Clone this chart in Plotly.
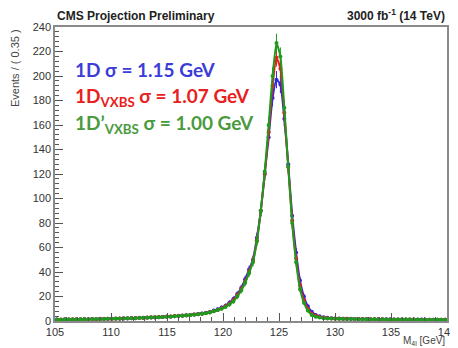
import numpy as np
import plotly.graph_objects as go

BIN_LO = 105.0
BIN_WIDTH = 0.35
N_BINS = 100
mass = [round(BIN_LO + BIN_WIDTH * (i + 0.5), 4) for i in range(N_BINS)]

blue_1D = [1.2,1.0,1.4,1.3,1.1,1.5,1.3,1.6,1.4,1.7,1.5,1.8,1.6,1.9,1.8,
           2.0,1.9,2.2,2.1,2.4,2.3,2.6,2.5,2.8,2.9,3.1,3.0,3.4,3.5,
           3.7,3.9,4.1,4.4,4.6,5.0,5.3,5.7,6.2,6.7,7.4,
           8.5,9.5,11,12.5,15,18,22,27,34,42,50,68,90,120,150,182,197,193,165,128,86,56,33,20,12,7.5,5,3.8,3,
           2.6,2.3,2.1,2.0,1.9,1.8,1.8,1.7,1.7,1.6,1.6,1.5,1.5,1.5,1.4,1.4,1.4,1.3,1.3,1.3,1.3,1.2,1.2,1.2,1.2,1.1,1.1,1.1,1.1,1.0,1.0]
red_1D_VXBS = [1.1,1.3,1.2,1.0,1.4,1.2,1.5,1.3,1.5,1.6,1.4,1.7,1.8,1.6,1.9,
               1.9,2.1,2.0,2.3,2.2,2.5,2.4,2.7,2.6,3.0,2.9,3.2,3.3,3.6,
               3.6,4.0,4.2,4.3,4.7,4.9,5.4,5.6,6.0,6.6,7.2,
               8,9,10.5,12,14,17,21,26,32,40,49,66,90,120,154,192,215,206,170,126,82,51,29,17,10,6,4.2,3.2,2.6,
               2.3,2.1,2.0,1.9,1.8,1.8,1.7,1.6,1.6,1.6,1.5,1.5,1.4,1.4,1.4,1.3,1.3,1.3,1.3,1.2,1.2,1.2,1.2,1.1,1.1,1.1,1.1,1.0,1.0,1.0,1.0]
green_1Dp_VXBS = [1.3,1.1,1.2,1.4,1.2,1.3,1.4,1.5,1.3,1.6,1.7,1.5,1.7,1.8,1.9,
                  1.8,2.0,2.1,2.2,2.3,2.2,2.5,2.6,2.7,2.8,3.0,3.1,3.2,3.4,
                  3.5,3.8,4.0,4.3,4.5,4.8,5.2,5.5,5.9,6.4,7.0,
                  8,9,10,11.5,13.5,16,20,25,31,39,48,65,90,122,160,200,227,216,174,126,80,48,26,15,8.5,5,3.5,2.8,2.3,
                  2.1,2.0,1.9,1.8,1.7,1.7,1.6,1.6,1.5,1.5,1.5,1.4,1.4,1.4,1.3,1.3,1.3,1.2,1.2,1.2,1.2,1.2,1.1,1.1,1.1,1.1,1.0,1.0,1.0,1.0,1.0]

series = [
    ("1D", blue_1D, "#2a2ae0"),
    ("1D_VXBS", red_1D_VXBS, "#e81c1c"),
    ("1D'_VXBS", green_1Dp_VXBS, "#1f9a1f"),
]

fig = go.Figure()
for name, vals, col in series:
    v = np.array(vals, dtype=float)
    fig.add_trace(go.Scatter(
        x=mass, y=vals, mode="lines+markers", name=name,
        line=dict(color=col, width=2, shape="spline", smoothing=0.5),
        marker=dict(color=col, size=4),
        error_y=dict(type="data", array=(0.5 * np.sqrt(v)).tolist(), color=col, thickness=1, width=0),
        showlegend=False,
    ))

axis_common = dict(
    showline=True, linecolor="#8a8a8a", linewidth=1.5, mirror=True,
    ticks="inside", tickcolor="#555", ticklen=8, tickwidth=1,
    showgrid=False, zeroline=False, automargin=False, ticklabeloverflow="allow",
    tickfont=dict(family="Liberation Sans, Arial", size=11, color="#333"),
)
fig.update_xaxes(range=[105, 140], dtick=5, tick0=105,
                 minor=dict(ticks="inside", ticklen=4, dtick=1, tickcolor="#555", showgrid=False),
                 **axis_common)
fig.update_yaxes(range=[0, 240], dtick=20, tick0=0,
                 minor=dict(ticks="inside", ticklen=4, dtick=4, tickcolor="#555", showgrid=False),
                 **axis_common)

base = dict(xref="paper", yref="paper", showarrow=False)
annots = [
    dict(text="<b>CMS Projection Preliminary</b>", x=0.0, y=1.0, xanchor="left", yanchor="bottom", yshift=2,
         font=dict(family="Liberation Sans, Arial", size=12, color="#222"), **base),
    dict(text="<b>3000 fb<sup>-1</sup> (14 TeV)</b>", x=1, y=1.0, xanchor="right", yanchor="bottom", yshift=2,
         font=dict(family="Liberation Sans, Arial", size=12, color="#222"), **base),
    dict(text="Events / ( 0.35 )", x=-0.102, y=1.0, xanchor="center", yanchor="top", textangle=-90,
         font=dict(family="Liberation Sans, Arial", size=11, color="#444"), **base),
    dict(text="M<sub>4l</sub> [GeV]", x=1, y=0, xanchor="right", yanchor="top", yshift=-12,
         font=dict(family="Liberation Sans, Arial", size=10, color="#444"), **base),
    dict(text="<b>1D σ = 1.15 GeV</b>", x=0.046, y=0.855, xanchor="left", yanchor="middle",
         font=dict(family="Lato", size=19, color="#3c3cd8"), **base),
    dict(text="<b>1D<sub>VXBS</sub> σ = 1.07 GeV</b>", x=0.046, y=0.762, xanchor="left", yanchor="middle",
         font=dict(family="Lato", size=19, color="#e82020"), **base),
    dict(text="<b>1D’<sub>VXBS</sub> σ = 1.00 GeV</b>", x=0.046, y=0.67, xanchor="left", yanchor="middle",
         font=dict(family="Lato", size=19, color="#4a9a3e"), **base),
]

fig.update_layout(
    width=450, height=340,
    margin=dict(l=47, r=11, t=19, b=27),
    paper_bgcolor="white", plot_bgcolor="white",
    annotations=annots,
)

fig.write_html("out.html", post_script="document.body.style.overflow='hidden';")
